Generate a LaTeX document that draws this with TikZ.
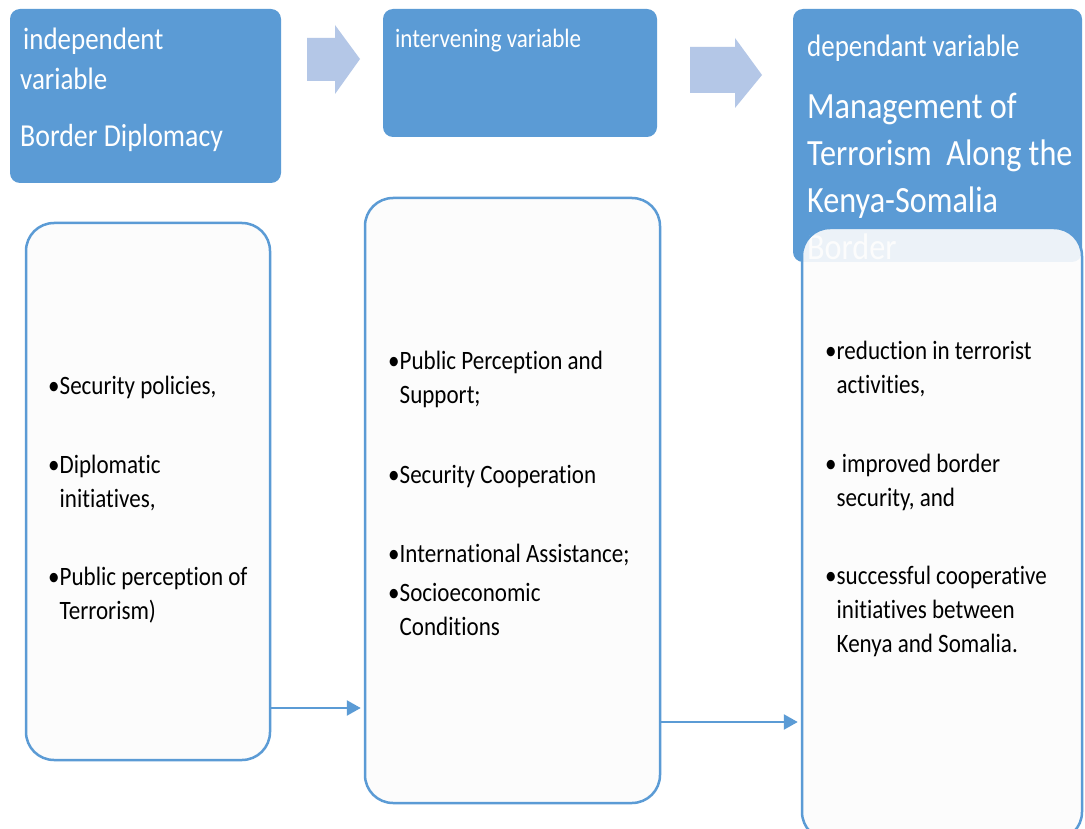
\documentclass[tikz,border=0pt]{standalone}
\usepackage{fontspec}
\setmainfont{Carlito}[FakeStretch=0.87,Ligatures=NoCommon]
\usepackage{tikz}
\usetikzlibrary{shapes,backgrounds,arrows.meta}
\definecolor{office}{HTML}{5B9BD5}
\definecolor{pale}{HTML}{B4C7E7}
\def\hang{\phantom{•}}
\tikzstyle{head}=[fill=office,rounded corners=10pt,inner sep=0pt]
\tikzstyle{body}=[draw=office,line width=2.5pt,fill=white!99!black,rounded corners=28pt,inner sep=0pt]
\tikzstyle{title}=[anchor=base west,inner sep=0pt,text=white]
\tikzstyle{item}=[anchor=base west,inner sep=0pt,align=left,font=\fontsize{26.5}{34}\selectfont]
\tikzstyle{fat}=[fill=pale]
\tikzstyle{link}=[draw=office,line width=2.5pt,-{Triangle[length=14pt,width=15pt]}]

\begin{document}
\begin{tikzpicture}[x=1pt,y=-1pt]
    \useasboundingbox[fill=white] (0,0) rectangle (1085,829);
    % top row
    \node[head,minimum width=271pt,minimum height=174pt] (indep) at (145.5,96) {};
    \node[head,minimum width=274pt,minimum height=128pt] (interv) at (520,73) {};
    \node[head,minimum width=289pt,minimum height=253pt] (depend) at (937.5,135.5) {};
    \node[title,font=\fontsize{31}{40}\selectfont] (indep1) at (23,50) {independent};
    \node[title,font=\fontsize{31}{40}\selectfont] (indep2) at (20,90) {variable};
    \node[title,font=\fontsize{32}{40}\selectfont] (indep3) at (20,147) {Border Diplomacy};
    \node[title,font=\fontsize{26.5}{34}\selectfont] (interv1) at (395,48) {intervening variable};
    \node[title,font=\fontsize{31}{40}\selectfont] (depend1) at (807,57) {dependant variable};
    % base anchor of a multi-line node is its last line
    \node[title,align=left,font=\fontsize{37}{47.3}\selectfont] (depend2) at (807,260)
        {Management of\\Terrorism\ \ Along the\\Kenya-Somalia\\Border};
    \fill[fat] (307,38) -- (335,38) -- (335,25) -- (360,59) -- (335,94) -- (335,81) -- (307,81) -- cycle;
    \fill[fat] (690,47) -- (735,47) -- (735,38) -- (762,75) -- (735,108) -- (735,93) -- (690,93) -- cycle;
    % bottom row
    \node[body,minimum width=244pt,minimum height=537pt] (indepbody) at (148,491.5) {};
    \node[body,minimum width=295pt,minimum height=605pt] (intervbody) at (512.5,500.5) {};
    \node[body,fill opacity=0.9,minimum width=280pt,minimum height=612pt] (dependbody) at (942,534) {};
    \node[item] (a1) at (48,394) {•Security policies,};
    \node[item] (a2) at (48,507) {•Diplomatic\\\hang initiatives,};
    \node[item] (a3) at (48,619) {•Public perception of\\\hang Terrorism)};
    \node[item] (b1) at (388,403) {•Public Perception and\\\hang Support;};
    \node[item] (b2) at (388,483) {•Security Cooperation};
    \node[item] (b3) at (388,562) {•International Assistance;};
    \node[item] (b4) at (388,635) {•Socioeconomic\\\hang Conditions};
    \node[item] (c1) at (825,393) {•reduction in terrorist\\\hang activities,};
    \node[item] (c2) at (825,506) {• improved border\\\hang security, and};
    \node[item] (c3) at (825,652) {•successful cooperative\\\hang initiatives between\\\hang Kenya and Somalia.};
    \draw[link] ([yshift=-216.5pt]indepbody.east) -- ([yshift=-216.5pt,xshift=-3pt]indepbody.east -| intervbody.west);
    \draw[link] ([yshift=-221.5pt]intervbody.east) -- ([yshift=-221.5pt,xshift=-3pt]intervbody.east -| dependbody.west);
\end{tikzpicture}
\end{document}
